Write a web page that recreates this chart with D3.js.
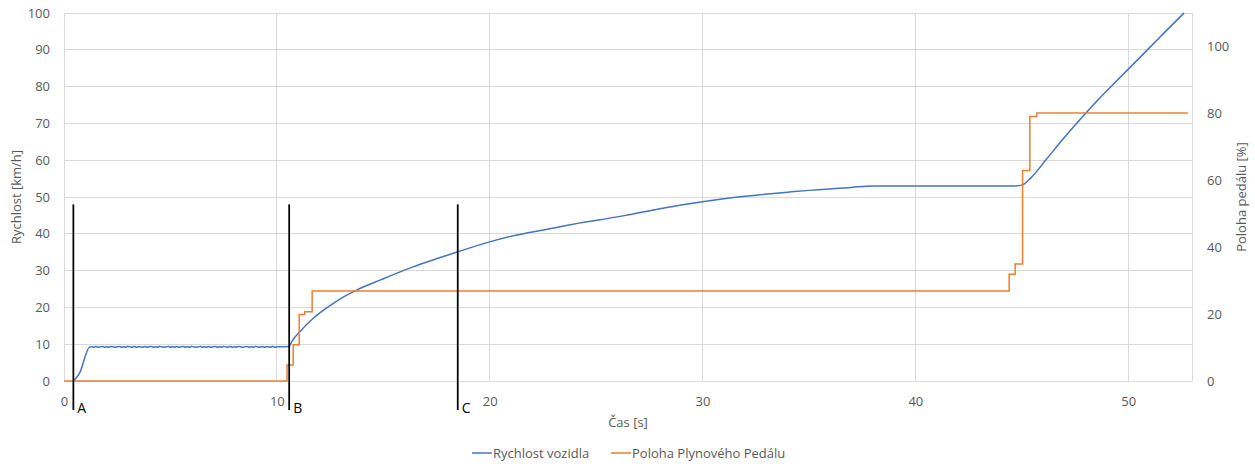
<!DOCTYPE html>
<html>
<head>
<meta charset="utf-8">
<script src="https://cdn.jsdelivr.net/npm/d3@7"></script>
<style>
  html, body { margin: 0; padding: 0; background: #fff; }
  svg { display: block; font-family: "Open Sans", "Noto Sans", sans-serif; }
</style>
</head>
<body>
<svg id="chart" width="1255" height="466"></svg>
<script>
// Vehicle speed [km/h] over time [s]: start-up, cruise, acceleration phases
const speedStart = [[0.44, 0], [0.72, 2.0], [1.2, 9.2]];
// Cruise section sampled every 0.1 s starting at 1.3 s
const cruiseStartTime = 1.3;
const cruiseStep = 0.1;
const cruiseSpeed = [
  9.3, 9.2, 9.4, 9.2, 9.3, 9.4, 9.2, 9.3, 9.2, 9.4,
  9.3, 9.2, 9.3, 9.4, 9.2, 9.3, 9.2, 9.4, 9.3, 9.2,
  9.4, 9.2, 9.3, 9.3, 9.2, 9.4, 9.2, 9.3, 9.4, 9.2,
  9.3, 9.2, 9.4, 9.3, 9.2, 9.3, 9.4, 9.2, 9.3, 9.2,
  9.4, 9.2, 9.3, 9.4, 9.2, 9.3, 9.2, 9.4, 9.3, 9.2,
  9.3, 9.4, 9.2, 9.3, 9.2, 9.4, 9.2, 9.3, 9.4, 9.2,
  9.3, 9.2, 9.4, 9.3, 9.2, 9.4, 9.2, 9.3, 9.2, 9.4,
  9.3, 9.2, 9.3, 9.4, 9.2, 9.3, 9.2, 9.4, 9.3, 9.2,
  9.4, 9.2, 9.3, 9.3, 9.2, 9.4, 9.2, 9.3, 9.3
];
const speedRise = [
  [10.58, 9.4], [10.7, 10.7], [11.08, 13.4], [11.7, 17.0], [12.5, 20.5],
  [13.0, 22.4], [13.75, 24.7], [14.85, 27.4], [16.4, 31.0], [17.5, 33.2],
  [18.5, 35.1], [20.0, 37.8], [21.0, 39.3], [22.0, 40.5], [23.3, 41.9],
  [24.2, 42.9], [26.0, 44.6], [27.0, 45.7], [28.0, 46.8], [29.0, 47.8],
  [30.0, 48.7], [31.0, 49.5], [32.0, 50.2], [32.7, 50.6], [34.0, 51.3],
  [35.0, 51.8], [36.0, 52.2], [37.0, 52.6], [38.0, 53.0], [44.7, 53.0],
  [45.04, 53.3], [45.43, 55.2], [46.14, 60.1], [46.9, 65.5], [47.7, 70.8],
  [48.6, 76.5], [49.5, 81.8], [50.5, 87.6], [51.5, 93.5], [52.63, 100]
];

// Accelerator pedal position [%]: each value holds until the next change
const pedalTimes  = [0, 10.48, 10.77, 11.05, 11.31, 11.66, 44.41, 44.69, 45.04, 45.38, 45.71, 52.8];
const pedalLevels = [0, 4.8, 10.8, 19.9, 20.7, 26.9, 31.9, 35.0, 62.9, 79.1, 80.1, 80.1];

// Phase markers
const markerNames = ["A", "B", "C"];
const markerTimes = [0.44, 10.58, 18.5];

// Axis ticks
const xTicks = [0, 10, 20, 30, 40, 50];
const yLeftTicks = [0, 10, 20, 30, 40, 50, 60, 70, 80, 90, 100];
const yRightTicks = [0, 20, 40, 60, 80, 100];

const seriesNames = ["Rychlost vozidla", "Poloha Plynového Pedálu"];
const seriesColors = ["#4472C4", "#ED7D31"];

const speed = speedStart
  .concat(cruiseSpeed.map((v, i) => [cruiseStartTime + i * cruiseStep, v]))
  .concat(speedRise);
const pedal = pedalTimes.map((t, i) => [t, pedalLevels[i]]);

const plot = { left: 64, right: 1192, top: 13, bottom: 381 };
const svg = d3.select("#chart");

const x = d3.scaleLinear().domain([0, 53]).range([plot.left, plot.right]);
const yL = d3.scaleLinear().domain([0, 100]).range([plot.bottom, plot.top]);
const yR = d3.scaleLinear().domain([0, 110]).range([plot.bottom, plot.top]);

const gridColor = "#d9d9d9";
const textColor = "#595959";

// Gridlines
const grid = svg.append("g");
grid.selectAll("line.h").data(yLeftTicks).join("line")
  .attr("x1", plot.left).attr("x2", plot.right)
  .attr("y1", d => yL(d)).attr("y2", d => yL(d))
  .attr("stroke", gridColor).attr("stroke-width", 1).attr("shape-rendering", "crispEdges");
grid.selectAll("line.v").data(xTicks.concat([53])).join("line")
  .attr("x1", d => x(d)).attr("x2", d => x(d))
  .attr("y1", plot.top).attr("y2", plot.bottom)
  .attr("stroke", gridColor).attr("stroke-width", 1).attr("shape-rendering", "crispEdges");

// Axes (labels only, Excel style)
const axisBottom = svg.append("g")
  .attr("transform", `translate(0,${plot.bottom})`)
  .call(d3.axisBottom(x).tickValues(xTicks).tickSize(0).tickPadding(16));
const axisLeft = svg.append("g")
  .attr("transform", `translate(${plot.left},0)`)
  .call(d3.axisLeft(yL).tickValues(yLeftTicks).tickSize(0).tickPadding(14));
const axisRight = svg.append("g")
  .attr("transform", `translate(${plot.right},0)`)
  .call(d3.axisRight(yR).tickValues(yRightTicks).tickSize(0).tickPadding(15));
[axisBottom, axisLeft, axisRight].forEach(g => {
  g.select(".domain").remove();
  g.selectAll("text").attr("fill", textColor).attr("font-size", 13)
    .attr("font-family", '"Open Sans", "Noto Sans", sans-serif');
});

// Clip to plot area
svg.append("clipPath").attr("id", "plotClip").append("rect")
  .attr("x", plot.left).attr("y", plot.top - 1)
  .attr("width", plot.right - plot.left).attr("height", plot.bottom - plot.top + 2);

const lineSpeed = d3.line().x(d => x(d[0])).y(d => yL(d[1])).curve(d3.curveMonotoneX);
const linePedal = d3.line().x(d => x(d[0])).y(d => yR(d[1])).curve(d3.curveStepAfter);

const lines = svg.append("g").attr("clip-path", "url(#plotClip)");
lines.append("path").datum(speed)
  .attr("d", lineSpeed).attr("fill", "none")
  .attr("stroke", seriesColors[0]).attr("stroke-width", 1.5).attr("stroke-linejoin", "round");
lines.append("path").datum(pedal)
  .attr("d", linePedal).attr("fill", "none")
  .attr("stroke", seriesColors[1]).attr("stroke-width", 1.5);

// Phase marker lines with labels
const markers = svg.append("g");
markerTimes.forEach((t, i) => {
  markers.append("line")
    .attr("x1", x(t)).attr("x2", x(t))
    .attr("y1", yL(48)).attr("y2", plot.bottom + 29)
    .attr("stroke", "#000").attr("stroke-width", 1.75);
  markers.append("text")
    .attr("x", x(t) + 4).attr("y", plot.bottom + 32)
    .attr("font-size", 14).attr("fill", "#000")
    .text(markerNames[i]);
});

// Axis titles
svg.append("text")
  .attr("transform", `translate(21,${(plot.top + plot.bottom) / 2}) rotate(-90)`)
  .attr("text-anchor", "middle").attr("font-size", 13).attr("fill", textColor)
  .text("Rychlost [km/h]");
svg.append("text")
  .attr("transform", `translate(1246,${(plot.top + plot.bottom) / 2}) rotate(-90)`)
  .attr("text-anchor", "middle").attr("font-size", 13).attr("fill", textColor)
  .text("Poloha pedálu [%]");
svg.append("text")
  .attr("x", (plot.left + plot.right) / 2).attr("y", 427)
  .attr("text-anchor", "middle").attr("font-size", 13).attr("fill", textColor)
  .text("Čas [s]");

// Legend
const legendX = [472, 611];
const legend = svg.append("g");
seriesNames.forEach((name, i) => {
  legend.append("line")
    .attr("x1", legendX[i]).attr("x2", legendX[i] + 20)
    .attr("y1", 453).attr("y2", 453)
    .attr("stroke", seriesColors[i]).attr("stroke-width", 1.5);
  legend.append("text")
    .attr("x", legendX[i] + 21).attr("y", 458)
    .attr("font-size", 13).attr("fill", textColor)
    .text(name);
});
</script>
</body>
</html>
